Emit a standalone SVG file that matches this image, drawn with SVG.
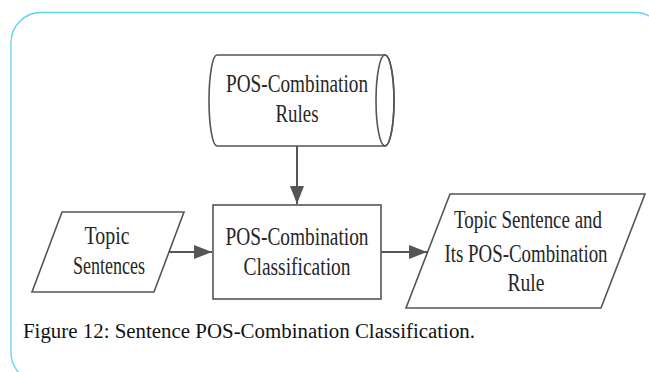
<svg xmlns="http://www.w3.org/2000/svg" width="649" height="372" viewBox="0 0 649 372">
<style>
.shape{fill:#fff;stroke:#555;stroke-width:1.6}
.lbl{font-family:"Liberation Serif","Times New Roman",serif;font-size:25px;fill:#262626;text-anchor:middle}
.conn{stroke:#555;stroke-width:2;fill:none}
.cap{font-family:"Liberation Serif","Times New Roman",serif;font-size:20px;fill:#111}
</style>
<defs>
<marker id="ah" markerUnits="userSpaceOnUse" markerWidth="20" markerHeight="14" refX="18" refY="7" orient="auto">
<path d="M0,0 L18,7 L0,14 Z" fill="#555"/>
</marker>
</defs>
<rect width="649" height="372" fill="#fff"/>
<rect id="frame" x="11" y="12.5" width="654" height="370" rx="30" ry="30" fill="none" stroke="#5cd3f2" stroke-width="1.3"/>
<g id="rules">
<path class="shape" d="M217,55 L385,55 A9,45.5 0 0 1 385,146 L217,146 A8,45.5 0 0 1 217,55 Z"/>
<ellipse cx="385" cy="100.5" rx="9" ry="45.5" fill="none" stroke="#555" stroke-width="1.6"/>
<text class="lbl" x="297" y="92" textLength="142" lengthAdjust="spacingAndGlyphs">POS-Combination</text>
<text class="lbl" x="297" y="122" textLength="43" lengthAdjust="spacingAndGlyphs">Rules</text>
</g>
<g id="topic">
<polygon class="shape" points="62,212 184,212 154,292 32,292"/>
<text class="lbl" x="107" y="244" textLength="45" lengthAdjust="spacingAndGlyphs">Topic</text>
<text class="lbl" x="109" y="274" textLength="72" lengthAdjust="spacingAndGlyphs">Sentences</text>
</g>
<g id="classify">
<rect class="shape" x="213" y="205" width="168" height="94"/>
<text class="lbl" x="297" y="245" textLength="143" lengthAdjust="spacingAndGlyphs">POS-Combination</text>
<text class="lbl" x="297" y="275" textLength="107" lengthAdjust="spacingAndGlyphs">Classification</text>
</g>
<g id="output">
<polygon class="shape" points="450,194 645,194 601,308 406,308"/>
<text class="lbl" x="528" y="228" textLength="148" lengthAdjust="spacingAndGlyphs">Topic Sentence and</text>
<text class="lbl" x="526" y="262" textLength="163" lengthAdjust="spacingAndGlyphs">Its POS-Combination</text>
<text class="lbl" x="526" y="291" textLength="37" lengthAdjust="spacingAndGlyphs">Rule</text>
</g>
<g id="connectors">
<line class="conn" x1="297" y1="146" x2="297" y2="204" marker-end="url(#ah)"/>
<line class="conn" x1="169" y1="252" x2="212" y2="252" marker-end="url(#ah)"/>
<line class="conn" x1="381" y1="252" x2="427" y2="252" marker-end="url(#ah)"/>
</g>
<text class="cap" x="23" y="338" textLength="452" lengthAdjust="spacingAndGlyphs">Figure 12: Sentence POS-Combination Classification.</text>
</svg>
